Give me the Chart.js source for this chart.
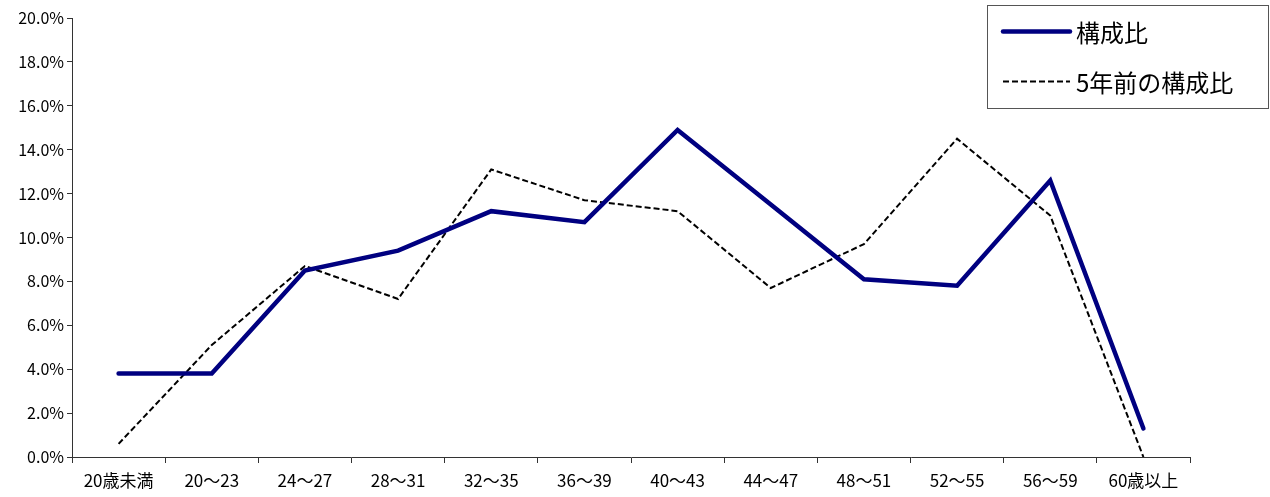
<!DOCTYPE html>
<html>
<head>
<meta charset="utf-8">
<script src="https://cdn.jsdelivr.net/npm/chart.js@4.4.1/dist/chart.umd.min.js"></script>
<style>
  html, body { margin: 0; padding: 0; background: #fff; }
  #wrap { position: relative; width: 1270px; height: 497px; }
</style>
</head>
<body>
<div id="wrap"><canvas id="grafico"></canvas></div>
<script>
// === Datos ===
var categorias = ['20歳未満', '20～23', '24～27', '28～31', '32～35', '36～39',
                  '40～43', '44～47', '48～51', '52～55', '56～59', '60歳以上'];
var composicion = [3.8, 3.8, 8.5, 9.4, 11.2, 10.7, 14.9, 11.5, 8.1, 7.8, 12.6, 1.3];
var composicion5 = [0.6, 5.1, 8.7, 7.2, 13.1, 11.7, 11.2, 7.7, 9.7, 14.5, 11.0, 0.0];
var etiquetasSerie = ['構成比', '5年前の構成比'];
var yTicks = [0, 2, 4, 6, 8, 10, 12, 14, 16, 18, 20];

var FONT = '"Noto Sans CJK JP", "Noto Sans", sans-serif';
var C_NAVY = '#000080';
var C_AXIS = '#333333';

// leyenda propia dibujada dentro del lienzo
var leyendaCaja = {
  id: 'leyendaCaja',
  afterDraw: function (chart) {
    var ctx = chart.ctx;
    var x = 987.5, y = 5.5, w = 281, h = 103;
    ctx.save();
    ctx.fillStyle = '#fff';
    ctx.fillRect(x, y, w, h);
    ctx.strokeStyle = '#555';
    ctx.lineWidth = 1;
    ctx.strokeRect(x, y, w, h);
    var filas = [31, 81];
    chart.data.datasets.forEach(function (ds, i) {
      var yy = y + filas[i] - 5;
      ctx.beginPath();
      ctx.strokeStyle = ds.borderColor;
      ctx.lineWidth = ds.borderWidth;
      ctx.lineCap = i === 0 ? 'round' : 'butt';
      ctx.setLineDash(ds.borderDash || []);
      ctx.moveTo(1003, yy);
      ctx.lineTo(1070, yy);
      ctx.stroke();
      ctx.setLineDash([]);
      ctx.fillStyle = '#000';
      ctx.font = '24px ' + FONT;
      ctx.textBaseline = 'middle';
      ctx.fillText(ds.label, 1076, yy + 1);
    });
    ctx.restore();
  }
};

var config = {
  type: 'line',
  data: {
    labels: categorias,
    datasets: [{
      label: etiquetasSerie[0],
      data: composicion,
      borderColor: C_NAVY,
      borderWidth: 4.5,
      borderCapStyle: 'round',
      borderJoinStyle: 'miter',
      pointRadius: 0,
      tension: 0,
      fill: false
    }, {
      label: etiquetasSerie[1],
      data: composicion5,
      borderColor: '#000',
      borderWidth: 2,
      borderDash: [6, 3],
      pointRadius: 0,
      tension: 0,
      fill: false
    }]
  },
  options: {
    responsive: true,
    maintainAspectRatio: false,
    animation: false,
    layout: { padding: { left: 0, right: 80, top: 18, bottom: 0 } },
    scales: {
      x: {
        type: 'category',
        offset: true,
        grid: {
          offset: true,
          drawOnChartArea: false,
          drawTicks: true,
          tickLength: 6,
          color: C_AXIS
        },
        border: { color: C_AXIS, width: 1 },
        ticks: {
          color: '#000',
          font: { family: FONT, size: 17 },
          maxRotation: 0,
          autoSkip: false,
          padding: 7
        },
        afterFit: function (s) { s.height = 40; }
      },
      y: {
        min: 0,
        max: 20,
        afterBuildTicks: function (s) {
          s.ticks = yTicks.map(function (v) { return { value: v }; });
        },
        grid: {
          drawOnChartArea: false,
          drawTicks: true,
          tickLength: 5,
          color: C_AXIS
        },
        border: { color: C_AXIS, width: 1 },
        ticks: {
          color: '#000',
          font: { family: FONT, size: 16 },
          padding: 3,
          callback: function (v) { return Number(v).toFixed(1) + '%'; }
        },
        afterFit: function (s) { s.width = 72; }
      }
    },
    plugins: {
      legend: { display: false },
      tooltip: { enabled: false }
    }
  },
  plugins: [leyendaCaja]
};

new Chart(document.getElementById('grafico'), config);
</script>
</body>
</html>
